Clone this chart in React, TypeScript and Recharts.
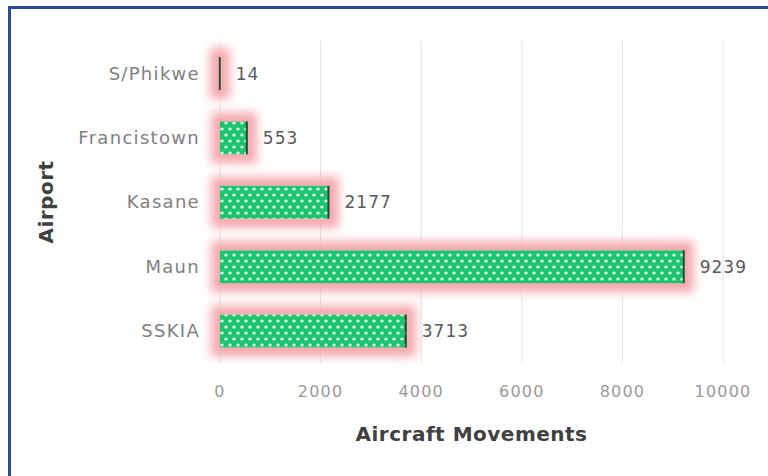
import { Bar, BarChart, CartesianGrid, LabelList, XAxis, YAxis } from "recharts";

const airports = ["S/Phikwe", "Francistown", "Kasane", "Maun", "SSKIA"];
const movements = [14, 553, 2177, 9239, 3713];
const xTicks = [0, 2000, 4000, 6000, 8000, 10000];

const data = airports.map((airport, i) => ({ airport, value: movements[i] }));

const FONT = "'DejaVu Sans', sans-serif";

// bar with a dark right edge, like the source
function PatternBar(props: any) {
  const { x, y, width, height } = props;
  if (width == null || height == null) return null;
  return (
    <g filter="url(#pinkGlow)">
      <rect x={x} y={y} width={Math.max(width, 0.5)} height={height} fill="url(#greenDots)" />
      <line x1={x + width - 1} x2={x + width - 1} y1={y} y2={y + height} stroke="#1d4d33" strokeWidth={2} />
    </g>
  );
}

export default function App() {
  return (
    <div style={{ position: "absolute", left: 0, top: 0, width: 768, height: 476, background: "#fff" }}>
      <div
        style={{
          position: "absolute",
          left: 8,
          top: 6,
          width: 760,
          height: 470,
          borderLeft: "3px solid #2b4a9e",
          borderTop: "3px solid #2b4a9e",
        }}
      />
      <BarChart
        width={768}
        height={476}
        data={data}
        layout="vertical"
        margin={{ top: 41, right: 45, bottom: 0, left: 10 }}
        barSize={33}
        style={{ fontFamily: FONT }}
      >
        <defs>
          <pattern id="greenDots" width="8" height="12" patternUnits="userSpaceOnUse">
            <rect width="8" height="12" fill="#1ec46f" />
            <ellipse cx="2" cy="3" rx="1.8" ry="1.5" fill="#d2f6e0" />
            <ellipse cx="6" cy="9" rx="1.8" ry="1.5" fill="#d2f6e0" />
          </pattern>
          <filter id="pinkGlow" filterUnits="userSpaceOnUse" x="0" y="0" width="768" height="476">
            <feMorphology in="SourceAlpha" operator="dilate" radius="9" result="grow" />
            <feGaussianBlur in="grow" stdDeviation="5" result="blur" />
            <feFlood floodColor="#f5aab0" floodOpacity="1" />
            <feComposite in2="blur" operator="in" result="glow" />
            <feMerge>
              <feMergeNode in="glow" />
              <feMergeNode in="SourceGraphic" />
            </feMerge>
          </filter>
        </defs>
        <CartesianGrid horizontal={false} stroke="#e3e3e3" />
        <XAxis
          type="number"
          domain={[0, 10000]}
          ticks={xTicks}
          axisLine={false}
          tickLine={false}
          tickMargin={17}
          height={113}
          tick={{ fill: "#9a9a9a", fontSize: 16, letterSpacing: 1.2, fontFamily: FONT }}
          label={{
            value: "Aircraft Movements",
            position: "insideBottom",
            offset: 35,
            fill: "#404040",
            fontSize: 20,
            fontWeight: "bold",
            letterSpacing: 0.5,
            fontFamily: FONT,
          }}
        />
        <YAxis
          type="category"
          dataKey="airport"
          width={210}
          axisLine={false}
          tickLine={false}
          tickMargin={14}
          tick={{ fill: "#7f7f7f", fontSize: 18, letterSpacing: 1.3, fontFamily: FONT }}
          label={{
            value: "Airport",
            angle: -90,
            position: "insideLeft",
            offset: 36,
            textAnchor: "middle",
            fill: "#404040",
            fontSize: 20,
            fontWeight: "bold",
            letterSpacing: 0.5,
            fontFamily: FONT,
          }}
        />
        <Bar dataKey="value" shape={PatternBar} isAnimationActive={false}>
          <LabelList
            dataKey="value"
            position="right"
            offset={15}
            fill="#595959"
            fontSize={17}
            letterSpacing={1}
            fontFamily={FONT}
          />
        </Bar>
      </BarChart>
    </div>
  );
}
